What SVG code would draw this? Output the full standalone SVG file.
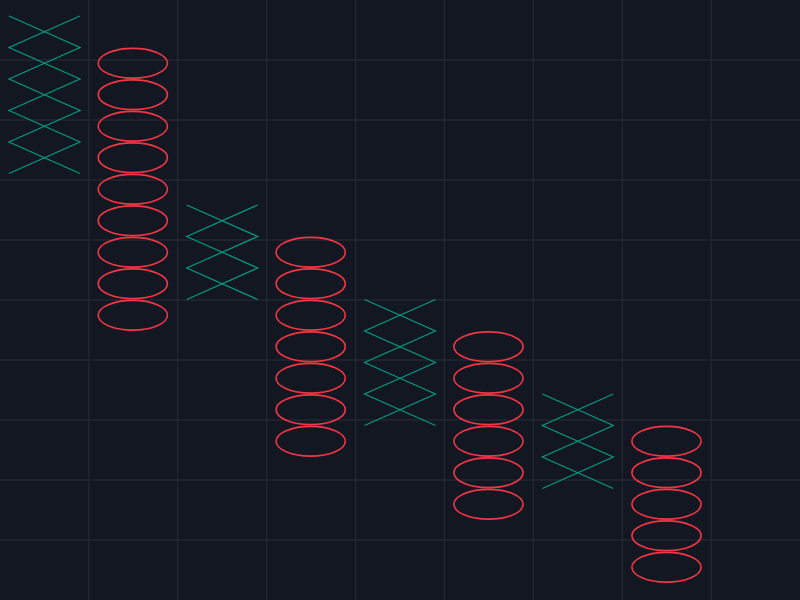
<svg xmlns="http://www.w3.org/2000/svg" width="800" height="600" viewBox="0 0 800 600">
<style>
.grid line{stroke:#2a2e39;stroke-width:1}
.x polyline{fill:none;stroke:#089981;stroke-width:1.2}
.o ellipse{fill:none;stroke:#f23645;stroke-width:1.6}
</style>
<rect width="800" height="600" fill="#131722"/>
<g class="grid" id="grid">
<line x1="88.89" y1="0" x2="88.89" y2="600"/>
<line x1="177.78" y1="0" x2="177.78" y2="600"/>
<line x1="266.67" y1="0" x2="266.67" y2="600"/>
<line x1="355.56" y1="0" x2="355.56" y2="600"/>
<line x1="444.44" y1="0" x2="444.44" y2="600"/>
<line x1="533.33" y1="0" x2="533.33" y2="600"/>
<line x1="622.22" y1="0" x2="622.22" y2="600"/>
<line x1="711.11" y1="0" x2="711.11" y2="600"/>
<line x1="0" y1="60" x2="800" y2="60"/>
<line x1="0" y1="120" x2="800" y2="120"/>
<line x1="0" y1="180" x2="800" y2="180"/>
<line x1="0" y1="240" x2="800" y2="240"/>
<line x1="0" y1="300" x2="800" y2="300"/>
<line x1="0" y1="360" x2="800" y2="360"/>
<line x1="0" y1="420" x2="800" y2="420"/>
<line x1="0" y1="480" x2="800" y2="480"/>
<line x1="0" y1="540" x2="800" y2="540"/>
</g>
<g id="col0" class="x">
<polyline points="9,16 80,47.5 9,79 80,110.5 9,142 80,173.5"/>
<polyline points="80,16 9,47.5 80,79 9,110.5 80,142 9,173.5"/>
</g>
<g id="col1" class="o">
<ellipse cx="132.8" cy="63.25" rx="34.6" ry="14.9"/>
<ellipse cx="132.8" cy="94.75" rx="34.6" ry="14.9"/>
<ellipse cx="132.8" cy="126.25" rx="34.6" ry="14.9"/>
<ellipse cx="132.8" cy="157.75" rx="34.6" ry="14.9"/>
<ellipse cx="132.8" cy="189.25" rx="34.6" ry="14.9"/>
<ellipse cx="132.8" cy="220.75" rx="34.6" ry="14.9"/>
<ellipse cx="132.8" cy="252.25" rx="34.6" ry="14.9"/>
<ellipse cx="132.8" cy="283.75" rx="34.6" ry="14.9"/>
<ellipse cx="132.8" cy="315.25" rx="34.6" ry="14.9"/>
</g>
<g id="col2" class="x">
<polyline points="186.7,205 257.7,236.5 186.7,268 257.7,299.5"/>
<polyline points="257.7,205 186.7,236.5 257.7,268 186.7,299.5"/>
</g>
<g id="col3" class="o">
<ellipse cx="310.7" cy="252.25" rx="34.6" ry="14.9"/>
<ellipse cx="310.7" cy="283.75" rx="34.6" ry="14.9"/>
<ellipse cx="310.7" cy="315.25" rx="34.6" ry="14.9"/>
<ellipse cx="310.7" cy="346.75" rx="34.6" ry="14.9"/>
<ellipse cx="310.7" cy="378.25" rx="34.6" ry="14.9"/>
<ellipse cx="310.7" cy="409.75" rx="34.6" ry="14.9"/>
<ellipse cx="310.7" cy="441.25" rx="34.6" ry="14.9"/>
</g>
<g id="col4" class="x">
<polyline points="364.5,299.5 435.5,331 364.5,362.5 435.5,394 364.5,425.5"/>
<polyline points="435.5,299.5 364.5,331 435.5,362.5 364.5,394 435.5,425.5"/>
</g>
<g id="col5" class="o">
<ellipse cx="488.5" cy="346.75" rx="34.6" ry="14.9"/>
<ellipse cx="488.5" cy="378.25" rx="34.6" ry="14.9"/>
<ellipse cx="488.5" cy="409.75" rx="34.6" ry="14.9"/>
<ellipse cx="488.5" cy="441.25" rx="34.6" ry="14.9"/>
<ellipse cx="488.5" cy="472.75" rx="34.6" ry="14.9"/>
<ellipse cx="488.5" cy="504.25" rx="34.6" ry="14.9"/>
</g>
<g id="col6" class="x">
<polyline points="542.3,394 613.3,425.5 542.3,457 613.3,488.5"/>
<polyline points="613.3,394 542.3,425.5 613.3,457 542.3,488.5"/>
</g>
<g id="col7" class="o">
<ellipse cx="666.5" cy="441.25" rx="34.6" ry="14.9"/>
<ellipse cx="666.5" cy="472.75" rx="34.6" ry="14.9"/>
<ellipse cx="666.5" cy="504.25" rx="34.6" ry="14.9"/>
<ellipse cx="666.5" cy="535.75" rx="34.6" ry="14.9"/>
<ellipse cx="666.5" cy="567.25" rx="34.6" ry="14.9"/>
</g>
</svg>
